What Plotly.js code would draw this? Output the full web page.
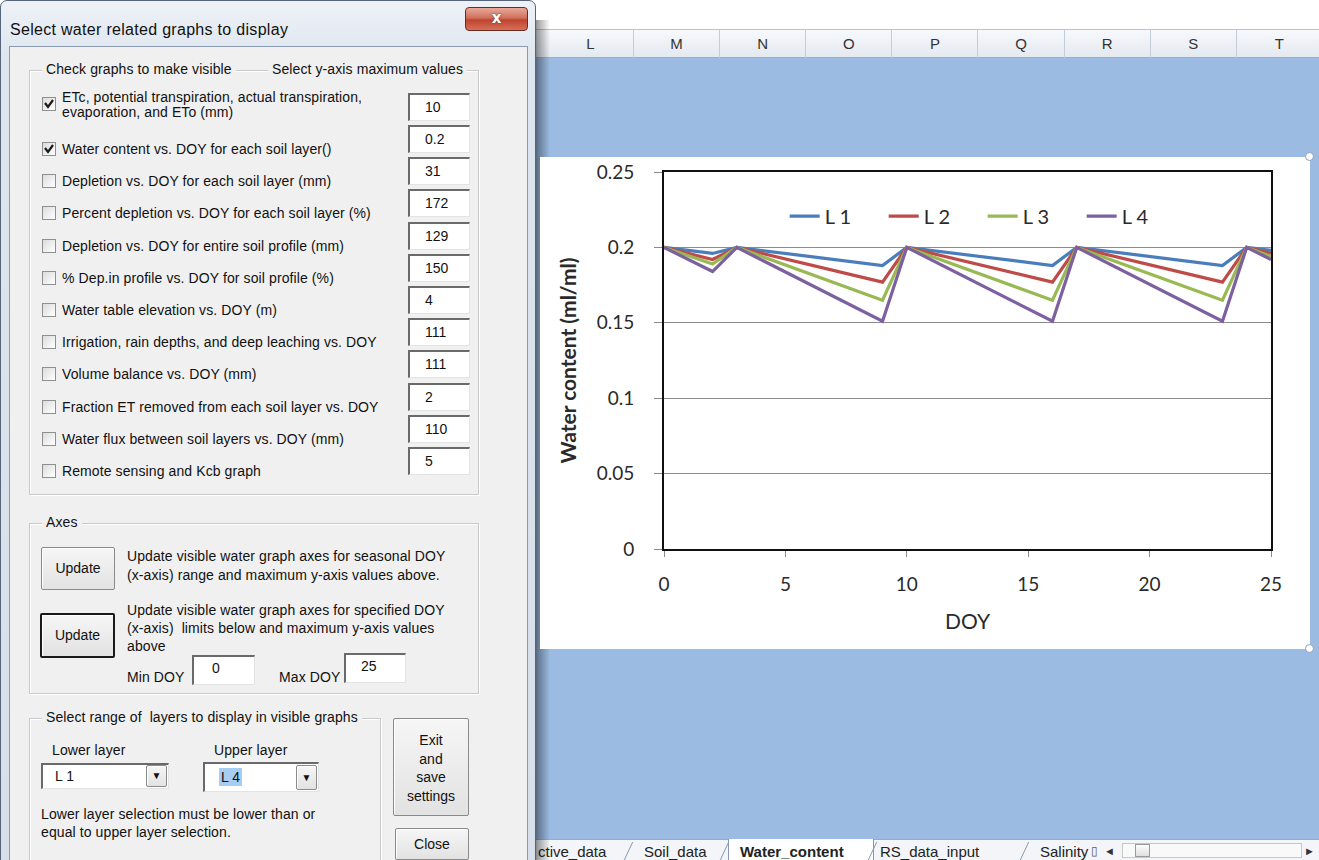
<!DOCTYPE html>
<html>
<head>
<meta charset="utf-8">
<script src="https://cdn.plot.ly/plotly-3.0.1.min.js"></script>
<style>
  html,body{margin:0;padding:0;width:1319px;height:860px;overflow:hidden;background:#fff;font-family:"Liberation Sans",Arial,sans-serif;}
  .a{position:absolute;box-sizing:border-box;white-space:nowrap;}
  .t{font-size:14px;letter-spacing:0.1px;color:#111;line-height:16px;height:16px;}
  .inp{background:#fff;border-top:2px solid #6a6a6a;border-left:2px solid #6a6a6a;border-right:1px solid #e3e3e3;border-bottom:1px solid #e3e3e3;font-size:14px;color:#111;padding-left:15px;line-height:22px;}
  .btn{background:linear-gradient(#f6f6f6,#e2e2e2);border:1px solid #8a8a8a;box-shadow:inset 1px 1px #fff;font-size:14px;color:#111;text-align:center;border-radius:2px;}
  .grp{border:1px solid #c9c9c9;box-shadow:1px 1px 0 #fff, inset 1px 1px 0 #fff;}
  .cb{width:14px;height:14px;background:linear-gradient(135deg,#dcdcdc,#fff);border:1px solid #8e8f8f;}
</style>
</head>
<body>
<div id="bg"></div>
<div id="chart" class="a" style="left:540px;top:157px;width:770px;height:492px;background:#fff;"></div>
<script>
// ---------------- chart data ----------------
const doy = [0, 2, 3, 9, 10, 16, 17, 23, 24, 25];
const L1 = [0.200, 0.196, 0.200, 0.188, 0.200, 0.188, 0.200, 0.188, 0.200, 0.198];
const L2 = [0.200, 0.192, 0.200, 0.177, 0.200, 0.177, 0.200, 0.177, 0.200, 0.196];
const L3 = [0.200, 0.189, 0.200, 0.165, 0.200, 0.165, 0.200, 0.165, 0.200, 0.194];
const L4 = [0.200, 0.184, 0.200, 0.151, 0.200, 0.151, 0.200, 0.151, 0.200, 0.192];
const seriesNames = ["L 1", "L 2", "L 3", "L 4"];
const xTicks = [0, 5, 10, 15, 20, 25];
const yTicks = [0, 0.05, 0.1, 0.15, 0.2, 0.25];
const yTickText = ["0", "0.05", "0.1", "0.15", "0.2", "0.25"];

// ---------------- surrounding Excel / dialog UI ----------------
const root = document.getElementById('bg');
function add(x, y, w, h, cls, css, html) {
  const d = document.createElement('div');
  d.className = 'a ' + (cls || '');
  d.style.cssText = `left:${x}px;top:${y}px;width:${w}px;height:${h}px;` + (css || '');
  if (html !== undefined) d.innerHTML = html;
  root.appendChild(d);
  return d;
}
function txt(x, cy, s, css) { return add(x, Math.round(cy - 8), null, 16, 't', 'width:auto;' + (css || ''), s); }

// Excel sheet background
add(535, 0, 784, 30, '', 'background:#fff;border-bottom:1px solid #b9c3cf;');
add(535, 30, 784, 28, '', 'background:linear-gradient(#f7f9fc,#e4e9f0);border-bottom:1px solid #9fb0c4;');
const cols = ['L','M','N','O','P','Q','R','S','T'];
cols.forEach((c, i) => {
  const x0 = 548 + i * 86.1;
  add(x0, 30, 86, 28, '', 'border-right:1px solid #c3ccd8;text-align:center;font:15px "Liberation Sans Narrow","Liberation Sans",Arial;line-height:28px;color:#333;', c);
});
add(535, 58, 784, 781, '', 'background:#9bbbe2;');
// sheet tabs
add(535, 839, 784, 21, '', 'background:#f3f5f8;border-top:1px solid #9aabbf;');
const tabs = [[538,'ctive_data',''],[644,'Soil_data',''],[740,'Water_content','font-weight:bold;'],[880,'RS_data_input',''],[1040,'Salinity','']];
add(728, 839, 146, 21, '', 'background:#fff;border-left:1px solid #8898ad;border-right:1px solid #8898ad;');
tabs.forEach(t => txt(t[0], 852, t[1], 'font-size:15px;letter-spacing:0;color:#222;' + t[2]));
[628, 724, 872, 1024].forEach(x => add(x, 842, 1, 18, '', 'background:#8898ad;transform:skewX(-25deg);'));
txt(1091, 851, '▯', 'font-size:12px;color:#555;');
txt(1104, 851, '◄', 'font-size:11px;color:#333;');
add(1122, 843, 180, 15, '', 'background:#f9f9f9;border:1px solid #c8c8c8;');
add(1135, 844, 15, 13, '', 'background:linear-gradient(#fdfdfd,#e0e0e0);border:1px solid #9a9a9a;');
txt(1304, 851, '►', 'font-size:11px;color:#333;');
// chart selection handles
add(1305, 152, 9, 9, '', 'border:1px solid #8aa0b8;border-radius:50%;background:#fff;z-index:5;');
add(1305, 644, 9, 9, '', 'border:1px solid #8aa0b8;border-radius:50%;background:#fff;z-index:5;');

// dialog shadow and frame
add(530, 20, 20, 840, '', 'background:linear-gradient(90deg,rgba(0,0,0,.75),rgba(0,0,0,.35) 40%,rgba(0,0,0,0));');
add(0, 0, 536, 880, '', 'background:linear-gradient(#eef2f7,#dde5ee 60px,#d6dfea);border:1px solid #55657a;border-radius:7px 7px 0 0;');
txt(10, 29, 'Select water related graphs to display', 'font-size:16px;letter-spacing:0.3px;color:#111;height:18px;line-height:18px;');
add(465, 7, 63, 24, '', 'background:linear-gradient(#e9a99b,#d0705c 45%,#c0442e 55%,#d5705a);border:1px solid #6b2a20;border-radius:4px;color:#fff;font:bold 15px "DejaVu Sans",Arial;text-align:center;line-height:21px;text-shadow:0 0 2px #6b2a20;', 'x');
add(9, 46, 519, 830, '', 'background:#f0f0f0;border:1px solid #8a9ab0;');

// group 1
add(29, 70, 450, 425, 'grp');
txt(42, 69, 'Check graphs to make visible', 'padding:0 4px;background:#f0f0f0;');
txt(268, 69, 'Select y-axis maximum values', 'padding:0 4px;background:#f0f0f0;');
const rows = [
  ['ETc, potential transpiration, actual transpiration,', 'evaporation, and ETo (mm)', true],
  ['Water content vs. DOY for each soil layer()', null, true],
  ['Depletion vs. DOY for each soil layer (mm)', null, false],
  ['Percent depletion vs. DOY for each soil layer (%)', null, false],
  ['Depletion vs. DOY for entire soil profile (mm)', null, false],
  ['% Dep.in profile vs. DOY for soil profile (%)', null, false],
  ['Water table elevation vs. DOY (m)', null, false],
  ['Irrigation, rain depths, and deep leaching vs. DOY', null, false],
  ['Volume balance vs. DOY (mm)', null, false],
  ['Fraction ET removed from each soil layer vs. DOY', null, false],
  ['Water flux between soil layers vs. DOY (mm)', null, false],
  ['Remote sensing and Kcb graph', null, false]
];
const yMax = ['10','0.2','31','172','129','150','4','111','111','2','110','5'];
const check = '<svg width="12" height="12" viewBox="0 0 12 12" style="position:absolute;left:0;top:0"><path d="M2 5 L5 9 L10 2" stroke="#1a1a1a" stroke-width="2.2" fill="none"/></svg>';
rows.forEach((r, k) => {
  const boxTop = 92.7 + 32.2 * k;
  add(408, Math.round(boxTop), 62, 28, 'inp', 'padding-top:1px;', yMax[k]);
  if (r[1]) {
    txt(62, 97, r[0]); txt(62, 112, r[1]);
    add(42, 97, 14, 14, 'cb', '', r[2] ? check : '');
  } else {
    const cy = boxTop + 24;
    txt(62, cy, r[0]);
    add(42, Math.round(cy - 7), 14, 14, 'cb', '', r[2] ? check : '');
  }
});

// group 2: axes
add(29, 523, 450, 171, 'grp');
txt(42, 522, 'Axes', 'padding:0 4px;background:#f0f0f0;');
add(41, 547, 74, 43, 'btn', 'line-height:41px;', 'Update');
txt(127, 556, 'Update visible water graph axes for seasonal DOY');
txt(127, 575, '(x-axis) range and maximum y-axis values above.');
add(40, 613, 75, 45, 'btn', 'border:2px solid #1a1a1a;line-height:41px;', 'Update');
txt(127, 610, 'Update visible water graph axes for specified DOY');
txt(127, 628, '(x-axis)&nbsp; limits below and maximum y-axis values');
txt(127, 646, 'above');
txt(127, 677, 'Min DOY');
add(192, 655, 63, 30, 'inp', 'padding-left:18px;', '0');
txt(279, 677, 'Max DOY');
add(344, 653, 62, 30, 'inp', 'padding-left:15px;', '25');

// group 3
add(29, 718, 352, 170, 'grp');
txt(42, 717, 'Select range of&nbsp; layers to display in visible graphs', 'padding:0 4px;background:#f0f0f0;');
txt(52, 750, 'Lower layer');
txt(214, 750, 'Upper layer');
add(41, 763, 128, 26, 'inp', 'padding-left:12px;line-height:22px;', 'L 1');
add(146, 765, 21, 22, 'btn', 'font-size:10px;line-height:20px;', '▼');
add(203, 762, 116, 30, 'inp', 'padding-left:14px;line-height:26px;', '<span style="background:#a7cdf0;padding:1px 2px;">L 4</span>');
add(296, 765, 21, 25, 'btn', 'font-size:10px;line-height:23px;', '▼');
txt(41, 814, 'Lower layer selection must be lower than or');
txt(41, 832, 'equal to upper layer selection.');
add(393, 718, 76, 98, 'btn', 'line-height:18.5px;padding-top:12px;white-space:normal;', 'Exit<br>and<br>save<br>settings');
add(395, 828, 74, 32, 'btn', 'line-height:30px;', 'Close');

// ---------------- chart ----------------
const colors = ['#4a7ebb', '#be4b48', '#98b954', '#7d60a0'];
const data = [L1, L2, L3, L4].map((ys, i) => ({
  x: doy, y: ys, name: seriesNames[i], type: 'scatter', mode: 'lines',
  line: {color: colors[i], width: 3.2}, hoverinfo: 'skip'
}));
const fam = 'Lato, "Open Sans", sans-serif';
const tickFont = {family: fam, size: 19, color: '#2a2a2a'};
const layout = {
  width: 770, height: 492,
  margin: {l: 124, r: 39, t: 15, b: 100},
  paper_bgcolor: '#fff', plot_bgcolor: '#fff',
  showlegend: true,
  legend: {orientation: 'h', x: 0.525, xanchor: 'center', y: 0.883, yanchor: 'middle',
           font: {family: fam, size: 20, color: '#2a2a2a'},
           bgcolor: 'rgba(0,0,0,0)', entrywidth: 54, entrywidthmode: 'pixels', itemwidth: 30, traceorder: 'normal'},
  xaxis: {
    range: [0, 25], tickvals: xTicks, ticks: 'outside', ticklen: 6, tickcolor: '#8a8a8a', tickwidth: 1,
    showline: true, linecolor: '#111', linewidth: 2, mirror: true, showgrid: false, zeroline: false,
    tickfont: tickFont, ticklabelstandoff: 11,
    title: {text: 'DOY', font: {family: fam, size: 21, color: '#2a2a2a'}, standoff: 21}
  },
  yaxis: {
    range: [0, 0.25], tickvals: yTicks, ticktext: yTickText, ticks: 'outside', ticklen: 8, tickcolor: '#8a8a8a', tickwidth: 1,
    showline: true, linecolor: '#111', linewidth: 2, mirror: true, showgrid: true, gridcolor: '#8c8c8c', gridwidth: 1, zeroline: false,
    tickfont: tickFont, ticklabelstandoff: 16,
    title: {text: '<b>Water content (ml/ml)</b>', font: {family: fam, size: 21, color: '#2a2a2a'}, standoff: 14}
  }
};
Plotly.newPlot('chart', data, layout, {displayModeBar: false, staticPlot: true});
</script>
</body>
</html>
